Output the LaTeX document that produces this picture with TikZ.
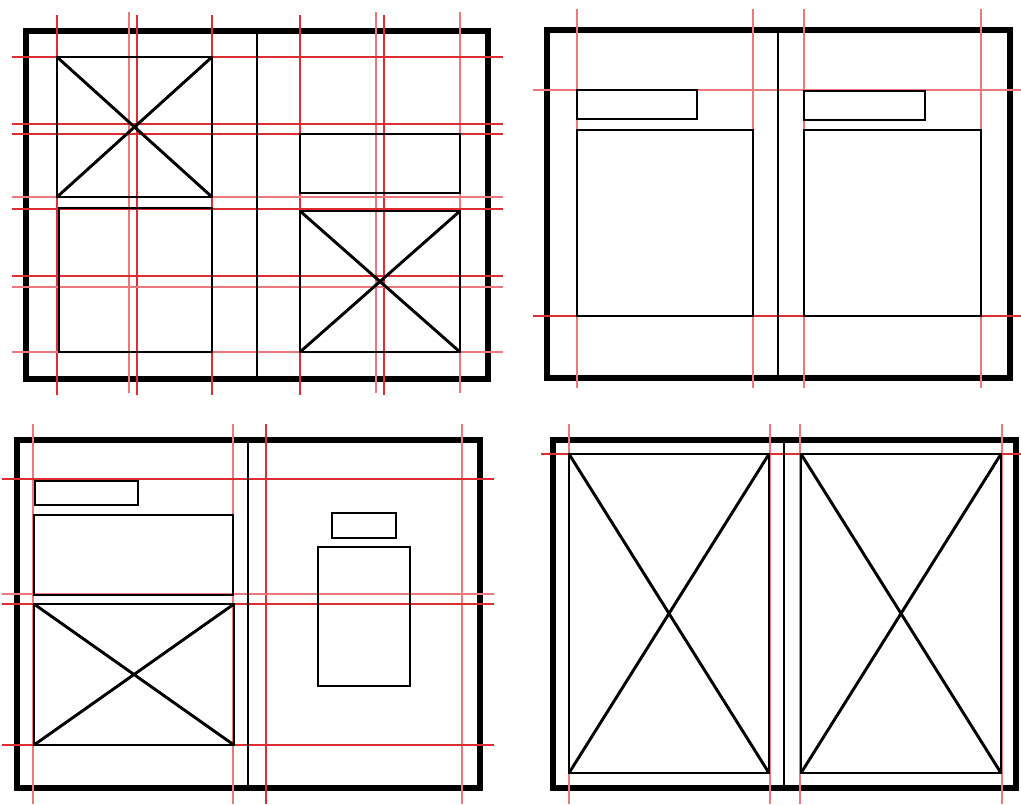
\documentclass[tikz,border=0pt]{standalone}
\definecolor{guidered}{RGB}{222,45,50}
\definecolor{guidepale}{RGB}{236,120,126}
\tikzset{
  frame/.style={line width=4.4pt, draw=black},
  box/.style={line width=2.5pt, draw=black},
  guide/.style={line width=1pt, draw=guidered},
  guidelight/.style={line width=1pt, draw=guidepale},
}
\newcommand\crossbox[4]{%
  \draw[box] (#1,#2) rectangle (#3,#4);
  \draw[box] (#1,#2) -- (#3,#4) (#1,#4) -- (#3,#2);}
\begin{document}
\begin{tikzpicture}[x=0.03cm,y=-0.03cm]
\useasboundingbox (0,0) rectangle (1021,804);
% ---------- frames ----------
\draw[frame] (26,31) rectangle (488,379);
\draw[frame] (547,30) rectangle (1010,378);
\draw[frame] (17,440) rectangle (480,788);
\draw[frame] (553,440) rectangle (1016,788);
% ---------- guides ----------
% panel 1
\foreach \x in {57,137,212,300,384} \draw[guide] (\x,15) -- (\x,395);
\foreach \x in {129,376,460} \draw[guidelight] (\x,12) -- (\x,393);
\foreach \y in {57,124,134,209,276} \draw[guide] (12,\y) -- (503,\y);
\foreach \y in {197,287,352} \draw[guidelight] (12,\y) -- (503,\y);
% panel 2
\foreach \x in {577,753,804,981} \draw[guidelight] (\x,9) -- (\x,388);
\draw[guidelight] (533,90) -- (1021,90);
\draw[guide] (533,316) -- (1021,316);
% panel 3
\foreach \x in {33,233,462} \draw[guidelight] (\x,424) -- (\x,804);
\draw[guide] (266,424) -- (266,804);
\foreach \y in {479,604,745} \draw[guide] (2,\y) -- (494,\y);
\draw[guidelight] (2,594) -- (494,594);
% panel 4
\foreach \x in {569,770,800,1002} \draw[guidelight] (\x,424) -- (\x,804);
\draw[guide] (541,454) -- (1021,454);
% ---------- panel 1 ----------
\draw[box] (257,31) -- (257,379);
\crossbox{57}{57}{212}{197}
\draw[box] (59,208) rectangle (212,352);
\draw[box] (300,134) rectangle (460,193);
\crossbox{300}{211}{460}{352}
% ---------- panel 2 ----------
\draw[box] (778,30) -- (778,378);
\draw[box] (577,90) rectangle (697,119);
\draw[box] (577,130) rectangle (753,316);
\draw[box] (804,91) rectangle (925,120);
\draw[box] (804,130) rectangle (981,316);
% ---------- panel 3 ----------
\draw[box] (248,440) -- (248,788);
\draw[box] (35,481) rectangle (138,505);
\draw[box] (34,515) rectangle (233,595);
\crossbox{34}{604}{234}{745}
\draw[box] (332,513) rectangle (396,538);
\draw[box] (318,547) rectangle (410,686);
% ---------- panel 4 ----------
\draw[box] (784,440) -- (784,788);
\crossbox{569}{454}{769}{773}
\crossbox{801}{454}{1001}{773}
\end{tikzpicture}
\end{document}
